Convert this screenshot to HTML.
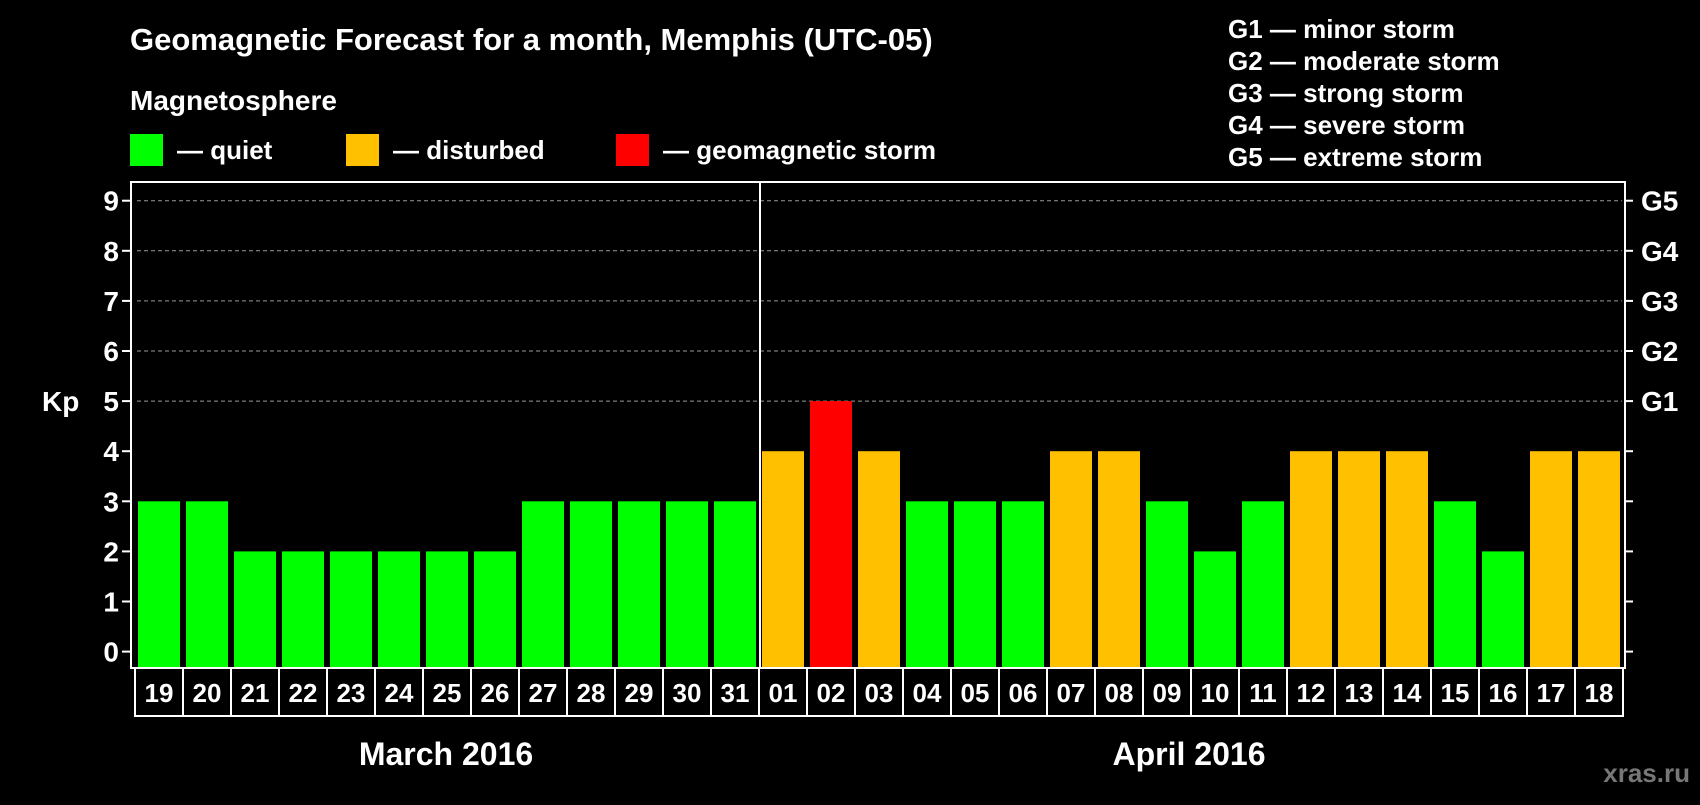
<!DOCTYPE html>
<html><head><meta charset="utf-8"><style>
body{margin:0;background:#000;width:1700px;height:800px;overflow:hidden;font-family:"Liberation Sans",sans-serif;font-weight:bold;color:#fff}
svg text{font-family:"Liberation Sans",sans-serif;font-weight:bold;fill:#fff}
</style></head><body>
<svg width="1700" height="800">
<text x="130" y="50" font-size="31">Geomagnetic Forecast for a month, Memphis (UTC-05)</text>
<text x="130" y="110" font-size="28">Magnetosphere</text>
<g><rect x="130" y="134" width="33" height="32" fill="#00ff00"/><text x="177" y="159" font-size="26">— quiet</text></g>
<g><rect x="346" y="134" width="33" height="32" fill="#ffc000"/><text x="393" y="159" font-size="26">— disturbed</text></g>
<g><rect x="616" y="134" width="33" height="32" fill="#ff0000"/><text x="663" y="159" font-size="26">— geomagnetic storm</text></g>
<g font-size="26">
<text x="1228" y="38">G1 — minor storm</text><text x="1228" y="70">G2 — moderate storm</text><text x="1228" y="102">G3 — strong storm</text><text x="1228" y="134">G4 — severe storm</text><text x="1228" y="166">G5 — extreme storm</text></g>
<text x="42" y="411" font-size="28">Kp</text>
<g id="plot"></g>
<text x="446" y="765" font-size="32" text-anchor="middle">March 2016</text>
<text x="1189" y="765" font-size="32" text-anchor="middle">April 2016</text>
<text x="1690" y="782" font-size="26" text-anchor="end" style="fill:#777">xras.ru</text>
</svg>
<script>
const days=["19","20","21","22","23","24","25","26","27","28","29","30","31","01","02","03","04","05","06","07","08","09","10","11","12","13","14","15","16","17","18"];
const kpValues=[3,3,2,2,2,2,2,2,3,3,3,3,3,4,5,4,3,3,3,4,4,3,2,3,4,4,4,3,2,4,4];
const yTicks=[0,1,2,3,4,5,6,7,8,9];
const gLabels=["G1","G2","G3","G4","G5"];
const NS="http://www.w3.org/2000/svg";
const g=document.getElementById('plot');
const L=131,R=1625,T=182,B=668,slot0=134,slotW=48;
const y=v=>651.6-v*50.1;
const x=i=>slot0+i*slotW;
function mk(t,a){const e=document.createElementNS(NS,t);for(const k in a)e.setAttribute(k,a[k]);g.appendChild(e);return e;}
yTicks.forEach(v=>{
 if(v>=5){const l=mk('line',{x1:L+6,x2:R-3,y1:y(v),y2:y(v),stroke:'#999','stroke-dasharray':'4,3','stroke-width':1});
 
 }
 mk('line',{x1:L-9,x2:L,y1:y(v),y2:y(v),stroke:'#fff','stroke-width':2});
 mk('line',{x1:R,x2:R+8,y1:y(v),y2:y(v),stroke:'#fff','stroke-width':2});
 const t=mk('text',{x:L-12,y:y(v)+10,'font-size':28,'text-anchor':'end'});t.textContent=v;
 
 
});
gLabels.forEach((s,i)=>{const t=mk('text',{x:R+16,y:y(5+i)+10,'font-size':28});t.textContent=s;
 
 });
kpValues.forEach((v,i)=>{
 const c=v>=5?'#ff0000':v>=4?'#ffc000':'#00ff00';
 const r=mk('rect',{x:x(i)+4,y:y(v),width:42,height:B-y(v),fill:c});
 
 
 const b=mk('rect',{x:x(i)+1,y:B,width:48,height:48,fill:'none',stroke:'#fff','stroke-width':2});
 
 
 const t=mk('text',{x:x(i)+25,y:B+34,'font-size':26,'text-anchor':'middle'});t.textContent=days[i];
 
 
});
const f=mk('rect',{x:L,y:T,width:R-L,height:B-T,fill:'none',stroke:'#fff','stroke-width':2});


const d=mk('line',{x1:x(13)+2,x2:x(13)+2,y1:T,y2:B,stroke:'#fff','stroke-width':2});


</script>
</body></html>
